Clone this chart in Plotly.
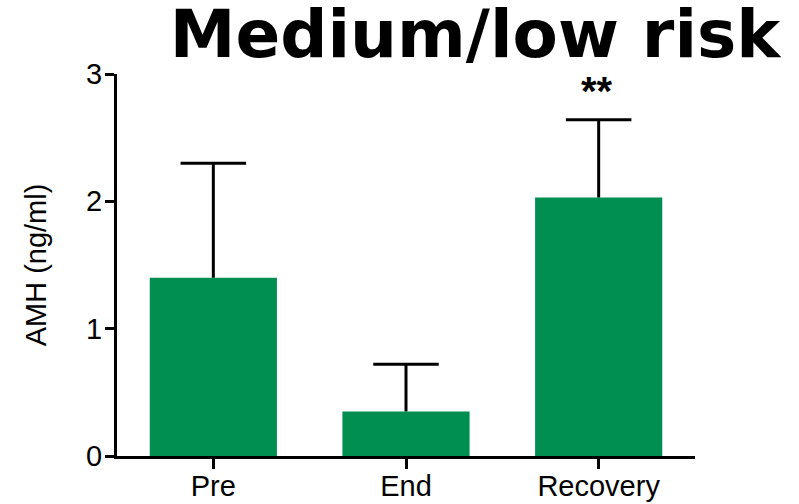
import plotly.graph_objects as go

# AMH levels by time point
categories = ["Pre", "End", "Recovery"]
amh_mean = [1.40, 0.35, 2.03]
amh_sem = [0.90, 0.37, 0.61]
significance = ["", "", "**"]
y_ticks = [0, 1, 2, 3]

bar_color = "#008F50"
label_family = "Liberation Sans, Arial, sans-serif"
axis_font = dict(family=label_family, size=29, color="black")
cap_half = 0.17  # half-width of the whisker caps, in category units

positions = list(range(len(categories)))

fig = go.Figure()
fig.add_trace(go.Bar(
    x=positions,
    y=amh_mean,
    width=0.66,
    marker=dict(color=bar_color, line=dict(width=0)),
    showlegend=False,
    hoverinfo="skip",
))

# upper-only SEM whiskers: stem from bar top plus a cap
wx, wy = [], []
for i, m, e in zip(positions, amh_mean, amh_sem):
    wx += [i, i, None, i - cap_half, i + cap_half, None]
    wy += [m, m + e, None, m + e, m + e, None]
fig.add_trace(go.Scatter(
    x=wx, y=wy, mode="lines",
    line=dict(color="black", width=3),
    showlegend=False, hoverinfo="skip",
))

# significance markers above the whiskers
for i, m, e, s in zip(positions, amh_mean, amh_sem, significance):
    if s:
        fig.add_annotation(x=i, y=m + e, text="<b>" + s + "</b>", showarrow=False,
                           yanchor="bottom", yshift=5, xshift=-2,
                           font=dict(family=label_family, size=40, color="black"))

fig.update_layout(
    width=799, height=504,
    margin=dict(l=117, r=104, t=74, b=48),
    paper_bgcolor="white", plot_bgcolor="white",
    title=dict(text="<b>Medium/low risk</b>",
               x=475 / 799, xanchor="center", xref="container",
               y=0.978, yanchor="top", yref="container", pad=dict(t=0),
               font=dict(family="DejaVu Sans, Verdana, sans-serif", size=66, color="black")),
    xaxis=dict(range=[-0.5, 2.5], tickvals=positions, ticktext=categories,
               showline=True, linecolor="black", linewidth=3,
               ticks="outside", ticklen=10, tickwidth=3, tickcolor="black",
               ticklabelstandoff=-8,
               tickfont=axis_font, showgrid=False, zeroline=False, automargin=False),
    yaxis=dict(range=[0, 3], tickvals=y_ticks, showline=True, linecolor="black",
               linewidth=3, ticks="outside", ticklen=9, tickwidth=3, tickcolor="black",
               ticklabelstandoff=-3,
               tickfont=axis_font, showgrid=False, zeroline=False, automargin=False,
               title=dict(text="AMH (ng/ml)", font=axis_font, standoff=31)),
)

fig.write_html("out.html")
